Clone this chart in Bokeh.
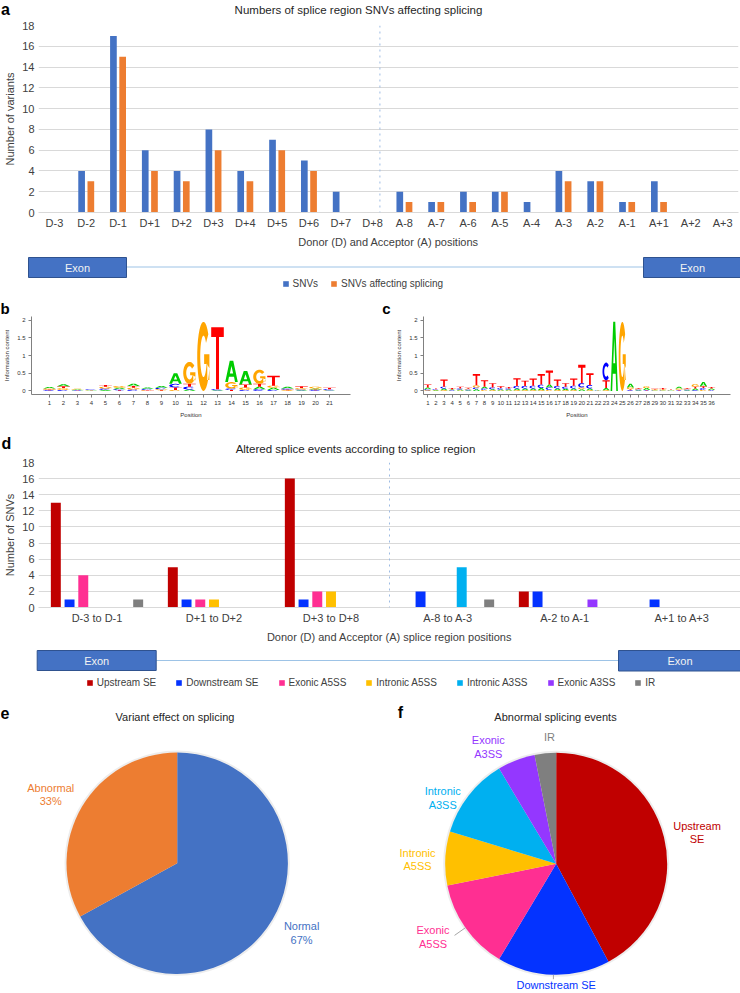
import numpy as np
from bokeh.plotting import figure
from bokeh.models import (ColumnDataSource, FactorRange, Range1d, Span,
                          Legend, LegendItem, FixedTicker, NumeralTickFormatter)
from bokeh.transform import dodge
from bokeh.layouts import column, row
from bokeh.core.properties import value
from bokeh.embed import file_html
from bokeh.resources import INLINE

# ------------------------------------------------------------------ data
positions = ["D-3", "D-2", "D-1", "D+1", "D+2", "D+3", "D+4", "D+5", "D+6", "D+7", "D+8",
             "A-8", "A-7", "A-6", "A-5", "A-4", "A-3", "A-2", "A-1", "A+1", "A+2", "A+3"]
snvs = [0, 4, 17, 6, 4, 8, 4, 7, 5, 2, 0, 2, 1, 2, 2, 1, 4, 3, 1, 3, 0, 0]
snvs_affecting = [0, 3, 15, 4, 3, 6, 3, 6, 4, 0, 0, 1, 1, 1, 2, 0, 3, 3, 1, 1, 0, 0]

regions = ["D-3 to D-1", "D+1 to D+2", "D+3 to D+8", "A-8 to A-3", "A-2 to A-1", "A+1 to A+3"]
event_types = ["Upstream SE", "Downstream SE", "Exonic A5SS", "Intronic A5SS",
               "Intronic A3SS", "Exonic A3SS", "IR"]
upstream_se = [13, 5, 16, 0, 2, 0]
downstream_se = [1, 1, 1, 2, 2, 1]
exonic_a5ss = [4, 1, 2, 0, 0, 0]
intronic_a5ss = [0, 1, 2, 0, 0, 0]
intronic_a3ss = [0, 0, 0, 5, 0, 0]
exonic_a3ss = [0, 0, 0, 0, 1, 0]
ir = [1, 0, 0, 1, 0, 0]

effect_labels = ["Normal", "Abnormal"]
effect_values = [67, 33]

abnormal_labels = ["Upstream\nSE", "Downstream SE", "Exonic\nA5SS", "Intronic\nA5SS",
                   "Intronic\nA3SS", "Exonic\nA3SS", "IR"]
abnormal_values = [54, 21, 17, 10, 15, 7, 4]

# sequence logo b (donor, 21 positions), information content per base
logo_b_A = [.04, .06, .02, .01, .03, .04, .06, .04, .05, .30, .04, 0, .02, .60, .38, .07, .06, .05, .02, .03, .01]
logo_b_C = [.02, .03, .01, .02, .04, .03, .04, .03, .04, .10, .08, 0, .03, .04, .03, .05, .03, .03, .02, .02, .03]
logo_b_G = [.03, .05, .02, .01, .05, .05, .05, .02, .03, .03, .62, 1.95, 0, .18, .07, .40, .06, .02, .04, .05, .01]
logo_b_T = [.02, .05, .01, .01, .05, .02, .05, .01, .02, .07, .08, 0, 1.75, .03, .08, .08, .28, .02, .05, .02, .04]

# sequence logo c (acceptor, 36 positions)
logo_c_A = [.05, .02, .05, .02, .03, .02, .05, .05, .03, .03, .03, .05, .05, .05, .06, .08, .05, .04,
            .05, .05, .05, .01, .06, 1.95, 0, .10, .02, .05, .01, .01, .01, .05, .02, .05, .12, .04]
logo_c_C = [.03, .02, .05, .01, .03, .02, .05, .04, .05, .04, .03, .07, .07, .08, .10, .07, .07, .06,
            .08, .12, .10, .01, .50, 0, 0, .02, .02, .01, .01, .01, .01, .01, .02, .02, .05, .01]
logo_c_G = [.02, .01, .02, .01, .01, .02, .06, .03, .02, .01, .01, .02, .02, .02, .02, .03, .02, .02,
            .02, .05, .02, 0, .02, 0, 1.95, .05, .02, .05, .02, .02, .01, .04, .02, .07, .03, .02]
logo_c_T = [.08, .02, .20, .04, .05, .03, .32, .18, .12, .05, .04, .22, .15, .20, .30, .40, .18, .10,
            .20, .52, .33, .01, .22, 0, 0, .03, .02, .02, .02, .04, .01, .02, .02, .05, .05, .04]

# ------------------------------------------------------------------ style
FONT = "Liberation Sans"
BLUE, ORANGE = "#4472C4", "#ED7D31"
EVENT_COLORS = ["#C00000", "#0433FF", "#FF2F92", "#FFC000", "#00B0F0", "#9437FF", "#7F7F7F"]
LOGO_COLORS = {"A": "#00CC00", "C": "#0000FF", "G": "#FFA500", "T": "#FF0000"}
TEXT = "#262626"
TICK = "#404040"
GRID = "#D9D9D9"
DOTTED = "#9DBBE3"


def make_fig(box, frame, **kw):
    X0, Y0, X1, Y1 = box
    fx0, fy0, fx1, fy1 = frame
    p = figure(width=int(round(X1 - X0)), height=int(round(Y1 - Y0)),
               min_border_left=int(round(fx0 - X0)), min_border_right=int(round(X1 - fx1)),
               min_border_top=int(round(fy0 - Y0)), min_border_bottom=int(round(Y1 - fy1)),
               output_backend="svg", toolbar_location=None, **kw)
    p.outline_line_color = None
    p.border_fill_color = "white"
    p.background_fill_color = "white"
    return p


class Plain:
    """a figure without axes whose frame fills it; coordinates are page-like (y downward)"""

    def __init__(self, box):
        X0, Y0, X1, Y1 = box
        self.Y1 = Y1
        self.p = make_fig(box, box, x_range=Range1d(X0, X1), y_range=Range1d(0, Y1 - Y0),
                          x_axis_location=None, y_axis_location=None)
        self.p.grid.visible = False

    def y(self, Y):
        return [self.Y1 - v for v in Y]


def header(box, items):
    """a strip holding panel letters and chart titles"""
    h = Plain(box)
    for X, Y, txt, size, style, color in items:
        h.p.text(x=[X], y=h.y([Y]), text=[txt], text_font=value(FONT), text_font_size=size,
                 text_font_style=style, text_color=color, text_align="center",
                 text_baseline="middle")
    return h.p


def cat_axes(p, xlabel, ylabel):
    p.xgrid.grid_line_color = None
    p.ygrid.grid_line_color = GRID
    p.yaxis.ticker = FixedTicker(ticks=list(range(0, 19, 2)))
    for ax in (p.xaxis[0], p.yaxis[0]):
        ax.major_label_text_font = FONT
        ax.major_label_text_font_size = "11px"
        ax.major_label_text_color = TICK
        ax.axis_label_text_font = FONT
        ax.axis_label_text_font_size = "11px"
        ax.axis_label_text_color = TICK
        ax.axis_label_text_font_style = "normal"
        ax.major_tick_line_color = None
        ax.minor_tick_line_color = None
        ax.major_tick_out = 0
        ax.major_tick_in = 0
        ax.minor_tick_out = 0
    p.xaxis.major_label_standoff = 4
    p.xaxis.axis_label_standoff = 4
    p.yaxis.major_label_standoff = 4
    p.yaxis.axis_label_standoff = 3
    p.xaxis.axis_line_color = GRID
    p.yaxis.axis_line_color = None
    p.xaxis.axis_label = xlabel
    p.yaxis.axis_label = ylabel


def strip(box, exon_left, exon_right, line_y, names, colors, legend_loc, spacing):
    X0, Y0, X1, Y1 = box
    s = Plain(box)
    p = s.p
    p.segment(x0=[exon_left[2]], y0=s.y([line_y]), x1=[exon_right[0]], y1=s.y([line_y]),
              line_color="#9DC3E6", line_width=1)
    boxes = [exon_left, exon_right]
    p.quad(left=[b[0] for b in boxes], right=[b[2] for b in boxes],
           top=s.y([b[1] for b in boxes]), bottom=s.y([b[3] for b in boxes]),
           fill_color=BLUE, line_color="#2F528F", line_width=1)
    p.text(x=[(b[0] + b[2]) / 2 for b in boxes], y=s.y([(b[1] + b[3]) / 2 for b in boxes]),
           text=["Exon", "Exon"], text_font=value(FONT), text_font_size="11px",
           text_color="#F2F2F2", text_align="center", text_baseline="middle")
    items = []
    for n, c in zip(names, colors):
        # legend-only renderer: a zero-height bar without outline
        r = p.vbar(x=[X0], top=[0], bottom=[0], width=0.001, fill_color=c, line_color=None)
        items.append(LegendItem(label=n, renderers=[r]))
    lg = Legend(items=items, location=legend_loc, orientation="horizontal",
                label_text_font=FONT, label_text_font_size="10px", label_text_color=TICK,
                glyph_width=7, glyph_height=7, label_height=10, label_standoff=4,
                spacing=spacing, padding=0, margin=0, border_line_color=None,
                background_fill_alpha=0)
    p.add_layout(lg)
    return p


def ellipse_arc(cx, cy, rx, ry, a0, a1, n=28):
    t = np.radians(np.linspace(a0, a1, n))
    return cx + rx * np.cos(t), cy + ry * np.sin(t)


def letter_polys(ch):
    """letter outline templates in a unit box: list of polygons, each a list of rings"""
    if ch == "T":
        return [[([0, 1, 1, .62, .62, .38, .38, 0], [1, 1, .84, .84, 0, 0, .84, .84])]]
    if ch == "A":
        outer = ([0, .36, .64, 1, .78, .70, .30, .22], [0, 1, 1, 0, 0, .25, .25, 0])
        hole = ([.37, .63, .5], [.40, .40, .76])
        return [[outer, hole]]
    if ch == "C":
        ox, oy = ellipse_arc(.5, .5, .5, .5, 45, 315)
        ix, iy = ellipse_arc(.5, .5, .26, .30, 315, 45)
        return [[(np.r_[ox, ix], np.r_[oy, iy])]]
    ox, oy = ellipse_arc(.5, .5, .5, .5, 40, 340)
    ix, iy = ellipse_arc(.5, .5, .26, .30, 340, 40)
    bar = ([.55, .97, .97, .80, .80, .55], [.53, .53, .16, .16, .39, .39])
    return [[(np.r_[ox, ix], np.r_[oy, iy])], [bar]]


def logo_source(heights, width=0.9):
    xs, ys, colors = [], [], []
    n = len(heights["A"])
    for i in range(n):
        pos = i + 1
        stack = sorted([(h[i], ch) for ch, h in heights.items() if h[i] > 0])
        base = 0.0
        for h, ch in stack:
            px_, py_ = [], []
            for poly in letter_polys(ch):
                px_.append([[float(pos - width / 2 + width * u) for u in rx] for rx, ry in poly])
                py_.append([[float(base + h * v) for v in ry] for rx, ry in poly])
            xs.append(px_)
            ys.append(py_)
            colors.append(LOGO_COLORS[ch])
            base += h
    return ColumnDataSource(dict(xs=xs, ys=ys, color=colors))


def style_logo(p, n):
    p.grid.visible = False
    p.xaxis.ticker = FixedTicker(ticks=list(range(1, n + 1)))
    p.yaxis.ticker = FixedTicker(ticks=[0, 0.5, 1, 1.5, 2])
    p.yaxis.formatter = NumeralTickFormatter(format="0.[0]")
    for ax in (p.xaxis[0], p.yaxis[0]):
        ax.major_label_text_font = FONT
        ax.major_label_text_font_size = "6px"
        ax.major_label_text_color = "#333333"
        ax.axis_label_text_font = FONT
        ax.axis_label_text_font_size = "6px"
        ax.axis_label_text_color = "#333333"
        ax.axis_label_text_font_style = "normal"
        ax.axis_line_color = "#808080"
        ax.major_tick_line_color = "#808080"
        ax.minor_tick_line_color = None
        ax.major_tick_out = 3
        ax.major_tick_in = 0
        ax.major_label_standoff = 3
        ax.axis_label_standoff = 4
    p.xaxis.axis_label = "Position"
    p.yaxis.axis_label = "Information content"


def pie(p, names, values, colors, label_texts, label_colors, label_r, nudge_deg, leader_r):
    v = np.asarray(values, float)
    frac = v / v.sum()
    cum = np.cumsum(frac)
    start = np.pi / 2 - 2 * np.pi * (cum - frac)
    end = np.pi / 2 - 2 * np.pi * cum
    p.circle(x=[0], y=[0], radius=1.018, fill_color="#000000", fill_alpha=0.07, line_color=None)
    src = ColumnDataSource(dict(name=names, start=start, end=end, color=colors))
    p.wedge(x=0, y=0, radius=1, start_angle="start", end_angle="end", direction="clock",
            fill_color="color", line_color=None, source=src)
    mid = (start + end) / 2
    lab = mid - np.radians(nudge_deg)
    lr = np.asarray(label_r)
    p.text(x=lr * np.cos(lab), y=lr * np.sin(lab), text=label_texts, text_color=label_colors,
           text_font=value(FONT), text_font_size="11px", text_align="center",
           text_baseline="middle", text_line_height=1.15)
    le = np.asarray(leader_r, float)
    sel = le > 0
    if sel.any():
        p.segment(x0=np.cos(mid[sel]), y0=np.sin(mid[sel]),
                  x1=le[sel] * np.cos(mid[sel]), y1=le[sel] * np.sin(mid[sel]),
                  line_color="#A6A6A6", line_width=1)


# ------------------------------------------------------------------ panel a
ha = header((0, 0, 740, 20), [
    (5, 9, "a", "16px", "bold", "#000000"),
    (358, 9, "Numbers of splice region SNVs affecting splicing", "11.5px", "normal", TEXT)])

FA = (38, 25, 738, 213.5)
pa = make_fig((0, 20, 740, 250), FA, x_range=FactorRange(*positions, range_padding=0),
              y_range=Range1d(0, 18))
src_a = ColumnDataSource(dict(pos=positions, snvs=snvs, aff=snvs_affecting))
pa.vbar(x=dodge("pos", -0.145, range=pa.x_range), top="snvs", width=0.21, source=src_a,
        fill_color=BLUE, line_color=None)
pa.vbar(x=dodge("pos", 0.145, range=pa.x_range), top="aff", width=0.21, source=src_a,
        fill_color=ORANGE, line_color=None)
cat_axes(pa, "Donor (D) and Acceptor (A) positions", "Number of variants")
pa.add_layout(Span(location=positions.index("D+8") + 0.5 + 0.23, dimension="height",
                   line_color=DOTTED, line_dash="dotted", line_width=1))

sa = strip((0, 250, 740, 292), (28, 257, 126, 277), (643, 257, 741, 277), 266.5,
           ["SNVs", "SNVs affecting splicing"], [BLUE, ORANGE], (281.5, 3), 12)

# ------------------------------------------------------------------ panels b, c
hbc = header((0, 292, 740, 315), [
    (4.5, 307.5, "b", "15px", "bold", "#000000"),
    (386, 307.5, "c", "15px", "bold", "#000000")])

FB = (31, 315.8, 350, 394.6)
pb = make_fig((0, 315, 370, 420), FB, x_range=Range1d(1 - (49 - 31) / 14, 1 + (350 - 49) / 14),
              y_range=Range1d(-0.1, 2.1))
pb.multi_polygons(xs="xs", ys="ys", fill_color="color", line_color=None,
                  source=logo_source({"A": logo_b_A, "C": logo_b_C, "G": logo_b_G, "T": logo_b_T}))
style_logo(pb, len(logo_b_A))

FC = (423, 315.8, 730, 394.6)
pc = make_fig((370, 315, 740, 420), FC,
              x_range=Range1d(1 - (427.3 - 423) / 8.106, 1 + (730 - 427.3) / 8.106),
              y_range=Range1d(-0.1, 2.1))
pc.multi_polygons(xs="xs", ys="ys", fill_color="color", line_color=None,
                  source=logo_source({"A": logo_c_A, "C": logo_c_C, "G": logo_c_G, "T": logo_c_T}))
style_logo(pc, len(logo_c_A))

# ------------------------------------------------------------------ panel d
hd = header((0, 420, 740, 456), [
    (6, 443, "d", "16px", "bold", "#000000"),
    (355, 448, "Altered splice events according to splice region", "11.5px", "normal", TEXT)])

FD = (38, 462, 740, 608.4)
pd_ = make_fig((0, 456, 740, 645), FD, x_range=FactorRange(*regions, range_padding=0),
               y_range=Range1d(0, 18))
series_d = [upstream_se, downstream_se, exonic_a5ss, intronic_a5ss, intronic_a3ss, exonic_a3ss, ir]
src_d = ColumnDataSource(dict(region=regions, **{f"s{i}": s for i, s in enumerate(series_d)}))
for i, c in enumerate(EVENT_COLORS):
    pd_.vbar(x=dodge("region", (i - 3) * 0.1173, range=pd_.x_range), top=f"s{i}", width=0.085,
             source=src_d, fill_color=c, line_color=None)
cat_axes(pd_, "Donor (D) and Acceptor (A) splice region positions", "Number of SNVs")
pd_.add_layout(Span(location=regions.index("A-8 to A-3"), dimension="height",
                    line_color=DOTTED, line_dash="dotted", line_width=1))

sd = strip((0, 645, 740, 690), (36.7, 650, 155.7, 670), (618, 650, 741, 670.5), 660,
           event_types, EVENT_COLORS, (85.8, 2), 19)

# ------------------------------------------------------------------ panels e, f
hef = header((0, 690, 740, 724), [
    (4.5, 712.5, "e", "16px", "bold", "#000000"),
    (174.5, 716.5, "Variant effect on splicing", "11px", "normal", TEXT),
    (400, 712, "f", "16px", "bold", "#000000"),
    (555, 716.5, "Abnormal splicing events", "11px", "normal", TEXT)])

BE = (0, 724, 370, 993)
CE, RE = (176.7, 862.7), 110.7
pe = make_fig(BE, BE,
              x_range=Range1d((BE[0] - CE[0]) / RE, (BE[2] - CE[0]) / RE),
              y_range=Range1d((CE[1] - BE[3]) / RE, (CE[1] - BE[1]) / RE),
              x_axis_location=None, y_axis_location=None)
pe.grid.visible = False
ve = np.asarray(effect_values, float)
pie(pe, effect_labels, effect_values, [BLUE, ORANGE],
    [f"{n}\n{round(100 * x / ve.sum())}%" for n, x in zip(effect_labels, ve)],
    [BLUE, ORANGE], [1.29, 1.30], [-1.2, -2.1], [0, 0])

BF = (370, 724, 740, 993)
CF, RF = (555.7, 863.3), 111.0
pf = make_fig(BF, BF,
              x_range=Range1d((BF[0] - CF[0]) / RF, (BF[2] - CF[0]) / RF),
              y_range=Range1d((CF[1] - BF[3]) / RF, (CF[1] - BF[1]) / RF),
              x_axis_location=None, y_axis_location=None)
pf.grid.visible = False
pie(pf, event_types, abnormal_values, EVENT_COLORS, abnormal_labels, EVENT_COLORS,
    [1.30, 1.095, 1.29, 1.25, 1.18, 1.22, 1.14], [1.5, -1.4, 4.5, -1.0, -8.0, -9.0, 2.6],
    [0, 1.04, 1.12, 0, 0, 0, 0])

# each full-width figure sits in its own row so that frames are not aligned across rows
layout = column(row(ha), row(pa), row(sa), row(hbc), row(pb, pc, spacing=0), row(hd),
                row(pd_), row(sd), row(hef), row(pe, pf, spacing=0), spacing=0)

open("out.html", "w").write(file_html(layout, INLINE))
